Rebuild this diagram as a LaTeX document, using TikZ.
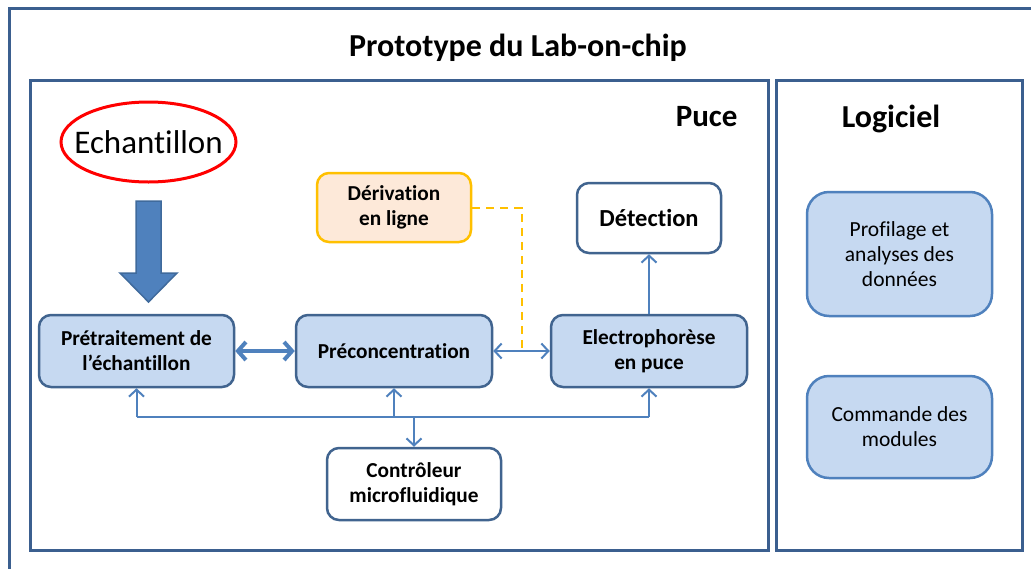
\documentclass[tikz,border=0pt]{standalone}
\usepackage{fontspec}
\setmainfont{Carlito}[Ligatures=NoCommon]
\usetikzlibrary{arrows.meta,shapes.geometric}
\definecolor{frameblue}{HTML}{3B5F8F}
\definecolor{boxedge}{HTML}{41648F}
\definecolor{softedge}{HTML}{4F81BD}
\definecolor{boxfill}{HTML}{C6D9F1}
\definecolor{connblue}{HTML}{4F81BD}
\definecolor{orangeedge}{HTML}{FFC000}
\definecolor{peach}{HTML}{FDE9D9}
\definecolor{bigarrow}{HTML}{4F81BD}
\definecolor{bigarrowedge}{HTML}{3F6A9C}
\tikzset{
  frame/.style={draw=frameblue, line width=3pt},
  pucebox/.style={draw=boxedge, line width=2.5pt, fill=boxfill, rounded corners=12pt,
    align=center, inner sep=0pt, font=\fontsize{21.3}{25}\selectfont\bfseries},
  whitebox/.style={pucebox, fill=white},
  softbox/.style={draw=softedge, line width=2.5pt, fill=boxfill, rounded corners=22pt,
    align=center, inner sep=0pt, font=\fontsize{21.5}{25}\selectfont},
  derbox/.style={draw=orangeedge, line width=2.5pt, fill=peach, rounded corners=12pt,
    align=center, inner sep=0pt, font=\fontsize{21.3}{25}\selectfont\bfseries},
  conn/.style={draw=connblue, line width=2pt},
  tip/.style={-{Straight Barb[length=7pt,width=15pt]}},
  dtip/.style={{Straight Barb[length=7pt,width=15pt]}-{Straight Barb[length=7pt,width=15pt]}},
  orangedash/.style={draw=orangeedge, line width=2pt, dash pattern=on 8pt off 6pt},
}
\begin{document}
\begin{tikzpicture}[x=1pt,y=-1pt]
\useasboundingbox (0,0) rectangle (1031,568);
\clip (0,0) rectangle (1031,568);
\fill[white] (0,0) rectangle (1031,568);
% frames
\draw[frame] (9,8) rectangle (1045,585);
\draw[frame] (30,80) rectangle (768,550);
\draw[frame] (776,80) rectangle (1022,550);
% titles
\node[anchor=base, font=\fontsize{32}{38}\selectfont\bfseries] (title) at (518,56) {Prototype du Lab-on-chip};
\node[anchor=base east, font=\fontsize{31}{36}\selectfont\bfseries] (puce) at (741,126) {Puce};
\node[anchor=base, font=\fontsize{32}{36}\selectfont\bfseries] (logiciel) at (891,127) {Logiciel};
% sample
\node[ellipse, draw=red, line width=3pt, minimum width=175pt, minimum height=80pt, inner sep=0pt] (ech) at (148.5,142) {};
\node[inner sep=0pt, font=\fontsize{33}{38}\selectfont] (echtext) at (ech.center) {Echantillon};
\draw[fill=bigarrow, draw=bigarrowedge, line width=1.5pt, line join=miter]
  (136,201) -- (161,201) -- (161,273) -- (177,273) -- (148.5,302) -- (120,273) -- (136,273) -- cycle;
% puce boxes
\node[pucebox, minimum width=195pt, minimum height=72pt] (pre) at (136.5,351) {Prétraitement de\\l’échantillon};
\node[pucebox, minimum width=196pt, minimum height=72pt] (prec) at (394,351) {Préconcentration};
\node[pucebox, minimum width=196pt, minimum height=72pt] (elec) at (649,351) {Electrophorèse\\en puce};
\node[whitebox, minimum width=144pt, minimum height=70pt, font=\fontsize{24.5}{28}\selectfont\bfseries] (det) at (649,218) {Détection};
\node[derbox, minimum width=154pt, minimum height=69pt] (der) at (394,207.5) {Dérivation\\en ligne};
\node[whitebox, minimum width=174pt, minimum height=72pt] (ctrl) at (414,484) {Contrôleur\\microfluidique};
% logiciel boxes
\node[softbox, minimum width=185pt, minimum height=124pt] (prof) at (899.5,254) {Profilage et\\analyses des\\données};
\node[softbox, minimum width=185pt, minimum height=102pt] (cmd) at (899.5,427) {Commande des\\modules};
% connectors
\draw[conn, line width=4pt, {Straight Barb[length=8pt,width=18pt]}-{Straight Barb[length=8pt,width=18pt]}] (pre.east) -- (prec.west);
\draw[conn, dtip] (prec.east) -- (elec.west);
\draw[conn, tip] (elec.north) -- (det.south);
\coordinate (dd) at (522,351);
\draw[orangedash] (der.east) -| (dd);
\coordinate (busy) at (0,417);
\draw[conn] (pre.south |- busy) -- (elec.south |- busy);
\draw[conn, tip] (pre.south |- busy) -- (pre.south);
\draw[conn, tip] (prec.south |- busy) -- (prec.south);
\draw[conn, tip] (elec.south |- busy) -- (elec.south);
\draw[conn, tip] (ctrl.north |- busy) -- (ctrl.north);
\end{tikzpicture}
\end{document}
